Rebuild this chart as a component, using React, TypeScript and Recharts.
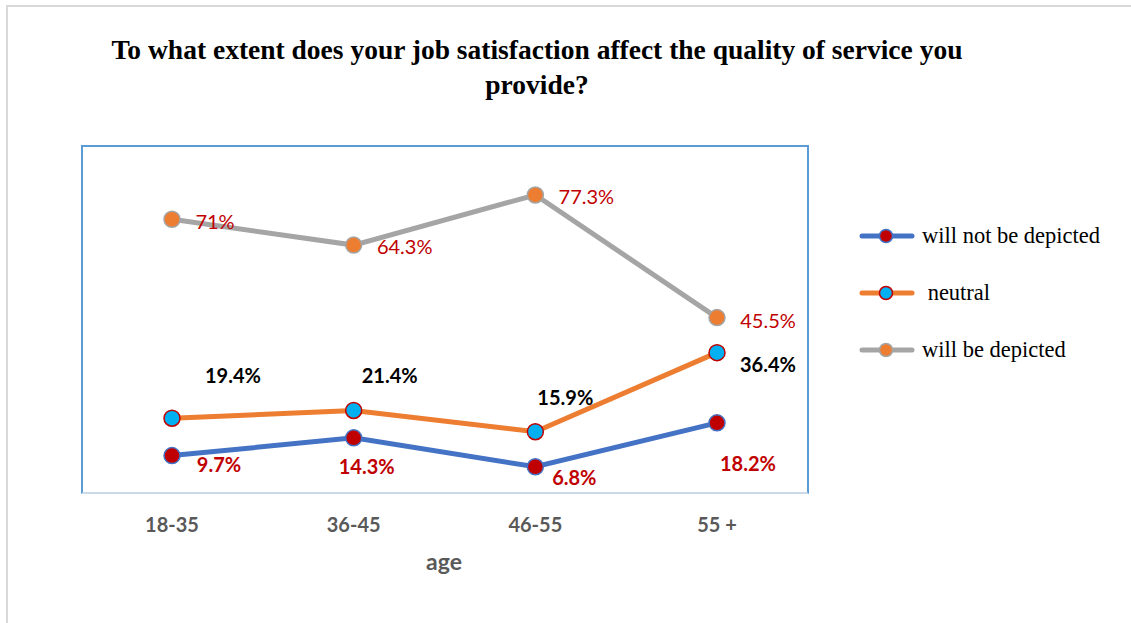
import React from 'react';
import { LineChart, Line, XAxis, YAxis, LabelList } from 'recharts';

const CATEGORIES = ['18-35', '36-45', '46-55', '55 +'];
const NOT_DEPICTED = [9.7, 14.3, 6.8, 18.2];
const NEUTRAL = [19.4, 21.4, 15.9, 36.4];
const DEPICTED = [71, 64.3, 77.3, 45.5];
const Y_DOMAIN: [number, number] = [0, 90];

// hand-placed data label offsets (dx, dy from point), as in the original
const OFFSETS_NOT = [[47, 8], [13, 28], [39, 10], [31, 40]];
const OFFSETS_NEUTRAL = [[61, -43], [36, -35], [30, -35], [51, 11]];
const OFFSETS_DEPICTED = [[43, 2], [51, 1], [51, 1], [51, 2]];

const data = CATEGORIES.map((age, i) => ({
  age,
  notDepicted: NOT_DEPICTED[i],
  neutral: NEUTRAL[i],
  depicted: DEPICTED[i],
}));

const LABEL_FONT = 'Lato, "Open Sans", sans-serif';

const series = [
  {
    key: 'notDepicted',
    name: 'will not be depicted',
    stroke: '#4472c4',
    dotFill: '#c00000',
    dotStroke: '#4472c4',
    labelColor: '#c00000',
    labelWeight: 700,
    offsets: OFFSETS_NOT,
  },
  {
    key: 'neutral',
    name: ' neutral',
    stroke: '#ed7d31',
    dotFill: '#00b0f0',
    dotStroke: '#c00000',
    labelColor: '#000000',
    labelWeight: 700,
    offsets: OFFSETS_NEUTRAL,
  },
  {
    key: 'depicted',
    name: 'will be depicted',
    stroke: '#a5a5a5',
    dotFill: '#ed7d31',
    dotStroke: '#a5a5a5',
    labelColor: '#c00000',
    labelWeight: 400,
    offsets: OFFSETS_DEPICTED,
  },
];

function makeLabel(s: (typeof series)[number]) {
  return (props: any) => {
    const { x, y, value, index } = props;
    const [dx, dy] = s.offsets[index] ?? [0, 0];
    return (
      <text
        x={Number(x) + dx}
        y={Number(y) + dy}
        textAnchor="middle"
        dominantBaseline="central"
        fill={s.labelColor}
        fontWeight={s.labelWeight}
        fontSize={20}
        fontFamily={LABEL_FONT}
      >
        {`${value}%`}
      </text>
    );
  };
}

const AgeTick = (props: any) => {
  const { x, payload } = props;
  return (
    <text
      x={x}
      y={524}
      textAnchor="middle"
      dominantBaseline="central"
      fill="#595959"
      fontWeight={700}
      fontSize={20}
      fontFamily={LABEL_FONT}
    >
      {payload.value}
    </text>
  );
};

function LegendBlock() {
  return (
    <div style={{ position: 'absolute', left: 858, top: 222 }}>
      {series.map((s, i) => (
        <div
          key={s.key}
          style={{ position: 'absolute', top: i * 57, left: 0, display: 'flex', alignItems: 'center', height: 28, whiteSpace: 'pre' }}
        >
          <svg width={58} height={20}>
            <line x1={4} y1={10} x2={54} y2={10} stroke={s.stroke} strokeWidth={5} strokeLinecap="round" />
            <circle cx={28} cy={10} r={6.5} fill={s.dotFill} stroke={s.dotStroke} strokeWidth={1.5} />
          </svg>
          <span style={{ fontFamily: '"Liberation Serif", "Times New Roman", serif', fontSize: 22.5, color: '#000', marginLeft: 6 }}>
            {s.name}
          </span>
        </div>
      ))}
    </div>
  );
}

export default function App() {
  return (
    <div style={{ position: 'absolute', left: 0, top: 0, width: 1131, height: 623, background: '#fff', overflow: 'hidden' }}>
      {/* outer chart-area frame */}
      <div
        style={{
          position: 'absolute',
          left: 6,
          top: 5,
          width: 1140,
          height: 640,
          borderTop: '2px solid #d9d9d9',
          borderLeft: '2px solid #d9d9d9',
        }}
      />
      <div
        style={{
          position: 'absolute',
          left: 37,
          top: 32,
          width: 1000,
          textAlign: 'center',
          fontFamily: '"Liberation Serif", "Times New Roman", serif',
          fontWeight: 700,
          fontSize: 27.5,
          lineHeight: '35px',
          color: '#000',
        }}
      >
        To what extent does your job satisfaction affect the quality of service you
        <br />
        provide?
      </div>
      <LineChart
        width={1131}
        height={623}
        data={data}
        margin={{ top: 146, right: 323, bottom: 70, left: 81 }}
        style={{ position: 'absolute', left: 0, top: 0 }}
      >
        <XAxis
          dataKey="age"
          axisLine={false}
          tickLine={false}
          height={60}
          padding={{ left: 91, right: 91 }}
          tick={<AgeTick />}
          interval={0}
          label={() => (
            <text
              x={444}
              y={561}
              textAnchor="middle"
              dominantBaseline="central"
              fill="#595959"
              fontWeight={700}
              fontSize={23}
              fontFamily={LABEL_FONT}
            >
              age
            </text>
          )}
        />
        <YAxis hide domain={Y_DOMAIN} />
        {series.map((s) => (
          <Line
            key={s.key}
            dataKey={s.key}
            name={s.name}
            stroke={s.stroke}
            strokeWidth={5}
            dot={{ r: 8, fill: s.dotFill, stroke: s.dotStroke, strokeWidth: 1.5 }}
            activeDot={false}
            isAnimationActive={false}
          >
            <LabelList dataKey={s.key} content={makeLabel(s)} />
          </Line>
        ))}
      </LineChart>
      {/* plot area border */}
      <div
        style={{
          position: 'absolute',
          left: 81,
          top: 145,
          width: 728,
          height: 349,
          boxSizing: 'border-box',
          borderTop: '2px solid #5b9bd5',
          borderLeft: '2px solid #5b9bd5',
          borderRight: '2px solid #5b9bd5',
          borderBottom: '2px solid #c9d9ea',
          pointerEvents: 'none',
        }}
      />
      <LegendBlock />
    </div>
  );
}
